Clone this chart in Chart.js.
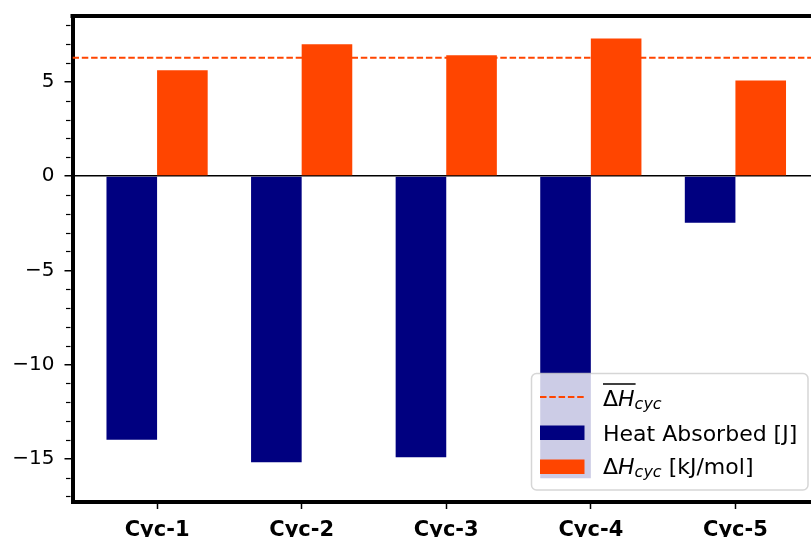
<!DOCTYPE html>
<html><head><meta charset="utf-8">
<script src="https://cdn.jsdelivr.net/npm/chart.js@4"></script>
<style>
html,body{margin:0;padding:0;background:#fff;}
#wrap{width:811px;height:537px;overflow:hidden;position:relative;background:#fff;}
canvas{display:block;}
</style>
</head><body>
<div id="wrap"><canvas id="c" width="840" height="537"></canvas></div>
<script>
// ---- data ----
const categories = ['Cyc-1', 'Cyc-2', 'Cyc-3', 'Cyc-4', 'Cyc-5'];
const heatAbsorbed = [-14.0, -15.19, -14.93, -16.04, -2.48];   // [J]
const deltaHcyc = [5.62, 7.0, 6.42, 7.30, 5.08];               // [kJ/mol]
const yTickValues = [5, 0, -5, -10, -15];
const yMinorTickValues = [8, 7, 6, 4, 3, 2, 1, -1, -2, -3, -4, -6, -7, -8, -9, -11, -12, -13, -14, -16, -17];
const legendLabels = ['Heat Absorbed [J]', ' [kJ/mol]'];
const meanDeltaH = deltaHcyc.reduce((a, b) => a + b, 0) / deltaHcyc.length;

const X_MIN = -0.585, X_MAX = 4.585, Y_MIN = -17.3, Y_MAX = 8.5;
const NAVY = '#000080', ORANGE = '#FF4500';
const FONT = '"DejaVu Sans", "Liberation Sans", sans-serif';

const spinesPlugin = {
  id: 'spines',
  afterDatasetsDraw(chart) {
    const {ctx, chartArea: a, scales} = chart;
    ctx.save();
    ctx.strokeStyle = '#000';
    ctx.lineWidth = 4;
    ctx.beginPath();
    ctx.moveTo(a.left - 2, a.top);
    ctx.lineTo(a.right + 2, a.top);
    ctx.stroke();
    ctx.beginPath();
    ctx.moveTo(a.right, a.top);
    ctx.lineTo(a.right, a.bottom);
    ctx.stroke();
    // minor y ticks
    ctx.lineWidth = 1.2;
    yMinorTickValues.forEach(v => {
      const y = Math.round(scales.y.getPixelForValue(v)) + 0.5;
      ctx.beginPath();
      ctx.moveTo(a.left - 2, y);
      ctx.lineTo(a.left - 6.5, y);
      ctx.stroke();
    });
    ctx.restore();
  }
};

function drawDeltaH(ctx, x, baseline, overline, suffix) {
  ctx.fillStyle = '#000';
  ctx.textAlign = 'left';
  ctx.textBaseline = 'alphabetic';
  ctx.font = '22px ' + FONT;
  ctx.fillText('Δ', x, baseline);
  let w = ctx.measureText('Δ').width;
  ctx.font = 'italic 22px ' + FONT;
  ctx.fillText('H', x + w, baseline);
  w += ctx.measureText('H').width;
  if (overline) {
    ctx.strokeStyle = '#000';
    ctx.lineWidth = 1.4;
    ctx.beginPath();
    ctx.moveTo(x, baseline - 21.5);
    ctx.lineTo(x + w + 1, baseline - 21.5);
    ctx.stroke();
  }
  ctx.font = 'italic 16px ' + FONT;
  ctx.fillText('cyc', x + w, baseline + 3.5);
  w += ctx.measureText('cyc').width;
  if (suffix) {
    ctx.font = '22px ' + FONT;
    ctx.fillText(suffix, x + w, baseline);
  }
}

const legendPlugin = {
  id: 'customLegend',
  afterDraw(chart) {
    const ctx = chart.ctx;
    ctx.save();
    const bx = 531.5, by = 373.5, bw = 276.5, bh = 116.5, r = 5;
    ctx.beginPath();
    ctx.moveTo(bx + r, by);
    ctx.lineTo(bx + bw - r, by);
    ctx.arcTo(bx + bw, by, bx + bw, by + r, r);
    ctx.lineTo(bx + bw, by + bh - r);
    ctx.arcTo(bx + bw, by + bh, bx + bw - r, by + bh, r);
    ctx.lineTo(bx + r, by + bh);
    ctx.arcTo(bx, by + bh, bx, by + bh - r, r);
    ctx.lineTo(bx, by + r);
    ctx.arcTo(bx, by, bx + r, by, r);
    ctx.closePath();
    ctx.fillStyle = 'rgba(255,255,255,0.8)';
    ctx.fill();
    ctx.strokeStyle = 'rgba(204,204,204,0.8)';
    ctx.lineWidth = 1.5;
    ctx.stroke();

    // row 1: mean dashed line
    ctx.strokeStyle = ORANGE;
    ctx.lineWidth = 2;
    ctx.setLineDash([6.5, 2.8]);
    ctx.beginPath();
    ctx.moveTo(540, 397);
    ctx.lineTo(585, 397);
    ctx.stroke();
    ctx.setLineDash([]);
    drawDeltaH(ctx, 603, 405.5, true, '');

    // row 2: heat absorbed patch
    ctx.fillStyle = NAVY;
    ctx.fillRect(540, 425.5, 44.5, 14.5);
    ctx.fillStyle = '#000';
    ctx.font = '22px ' + FONT;
    ctx.textBaseline = 'alphabetic';
    ctx.fillText(legendLabels[0], 603, 441);

    // row 3: delta H patch
    ctx.fillStyle = ORANGE;
    ctx.fillRect(540, 459.5, 44.5, 14.5);
    drawDeltaH(ctx, 603, 473.5, false, legendLabels[1]);
    ctx.restore();
  }
};

new Chart(document.getElementById('c'), {
  type: 'bar',
  data: {
    datasets: [
      {
        label: 'Heat Absorbed [J]',
        data: heatAbsorbed.map((v, i) => ({x: i, y: v})),
        backgroundColor: NAVY,
        borderWidth: 0,
        categoryPercentage: 0.7,
        barPercentage: 1.0,
        order: 1
      },
      {
        label: 'ΔH cyc [kJ/mol]',
        data: deltaHcyc.map((v, i) => ({x: i, y: v})),
        backgroundColor: ORANGE,
        borderWidth: 0,
        categoryPercentage: 0.7,
        barPercentage: 1.0,
        order: 2
      },
      {
        type: 'line',
        label: 'mean ΔH cyc',
        data: [{x: X_MIN, y: meanDeltaH}, {x: X_MAX, y: meanDeltaH}],
        borderColor: ORANGE,
        borderWidth: 2,
        borderDash: [6.5, 2.8],
        pointRadius: 0,
        fill: false,
        order: 5
      }
    ]
  },
  options: {
    responsive: false,
    animation: false,
    events: [],
    layout: {padding: {top: 16, right: 20, left: 0, bottom: 0}},
    plugins: {legend: {display: false}, tooltip: {enabled: false}},
    scales: {
      x: {
        type: 'linear',
        min: X_MIN,
        max: X_MAX,
        offset: false,
        afterBuildTicks: s => { s.ticks = categories.map((c, i) => ({value: i})); },
        afterFit: s => { s.height = 35; s.paddingLeft = 0; s.paddingRight = 0; },
        ticks: {
          callback: v => categories[Math.round(v)],
          font: {family: FONT, size: 21, weight: 'bold'},
          color: '#000',
          padding: 9,
          maxRotation: 0,
          autoSkip: false
        },
        grid: {offset: false, drawOnChartArea: false, drawTicks: true, tickLength: 7, tickColor: '#000', tickWidth: 1.5},
        border: {display: true, color: '#000', width: 4}
      },
      y: {
        min: Y_MIN,
        max: Y_MAX,
        afterBuildTicks: s => { s.ticks = yTickValues.map(v => ({value: v})); },
        afterFit: s => { s.width = 72.5; s.paddingTop = 0; s.paddingBottom = 0; },
        ticks: {
          callback: v => (v < 0 ? '\u2212' + Math.abs(v) : String(v)),
          font: {family: FONT, size: 20},
          color: '#000',
          padding: 10
        },
        grid: {
          drawOnChartArea: true,
          color: c => (c.tick && c.tick.value === 0 ? '#000' : 'rgba(0,0,0,0)'),
          lineWidth: 1.5,
          tickColor: '#000',
          tickLength: 8,
          tickWidth: 1.5
        },
        border: {display: true, color: '#000', width: 4}
      }
    }
  },
  plugins: [spinesPlugin, legendPlugin]
});
</script>
</body></html>
